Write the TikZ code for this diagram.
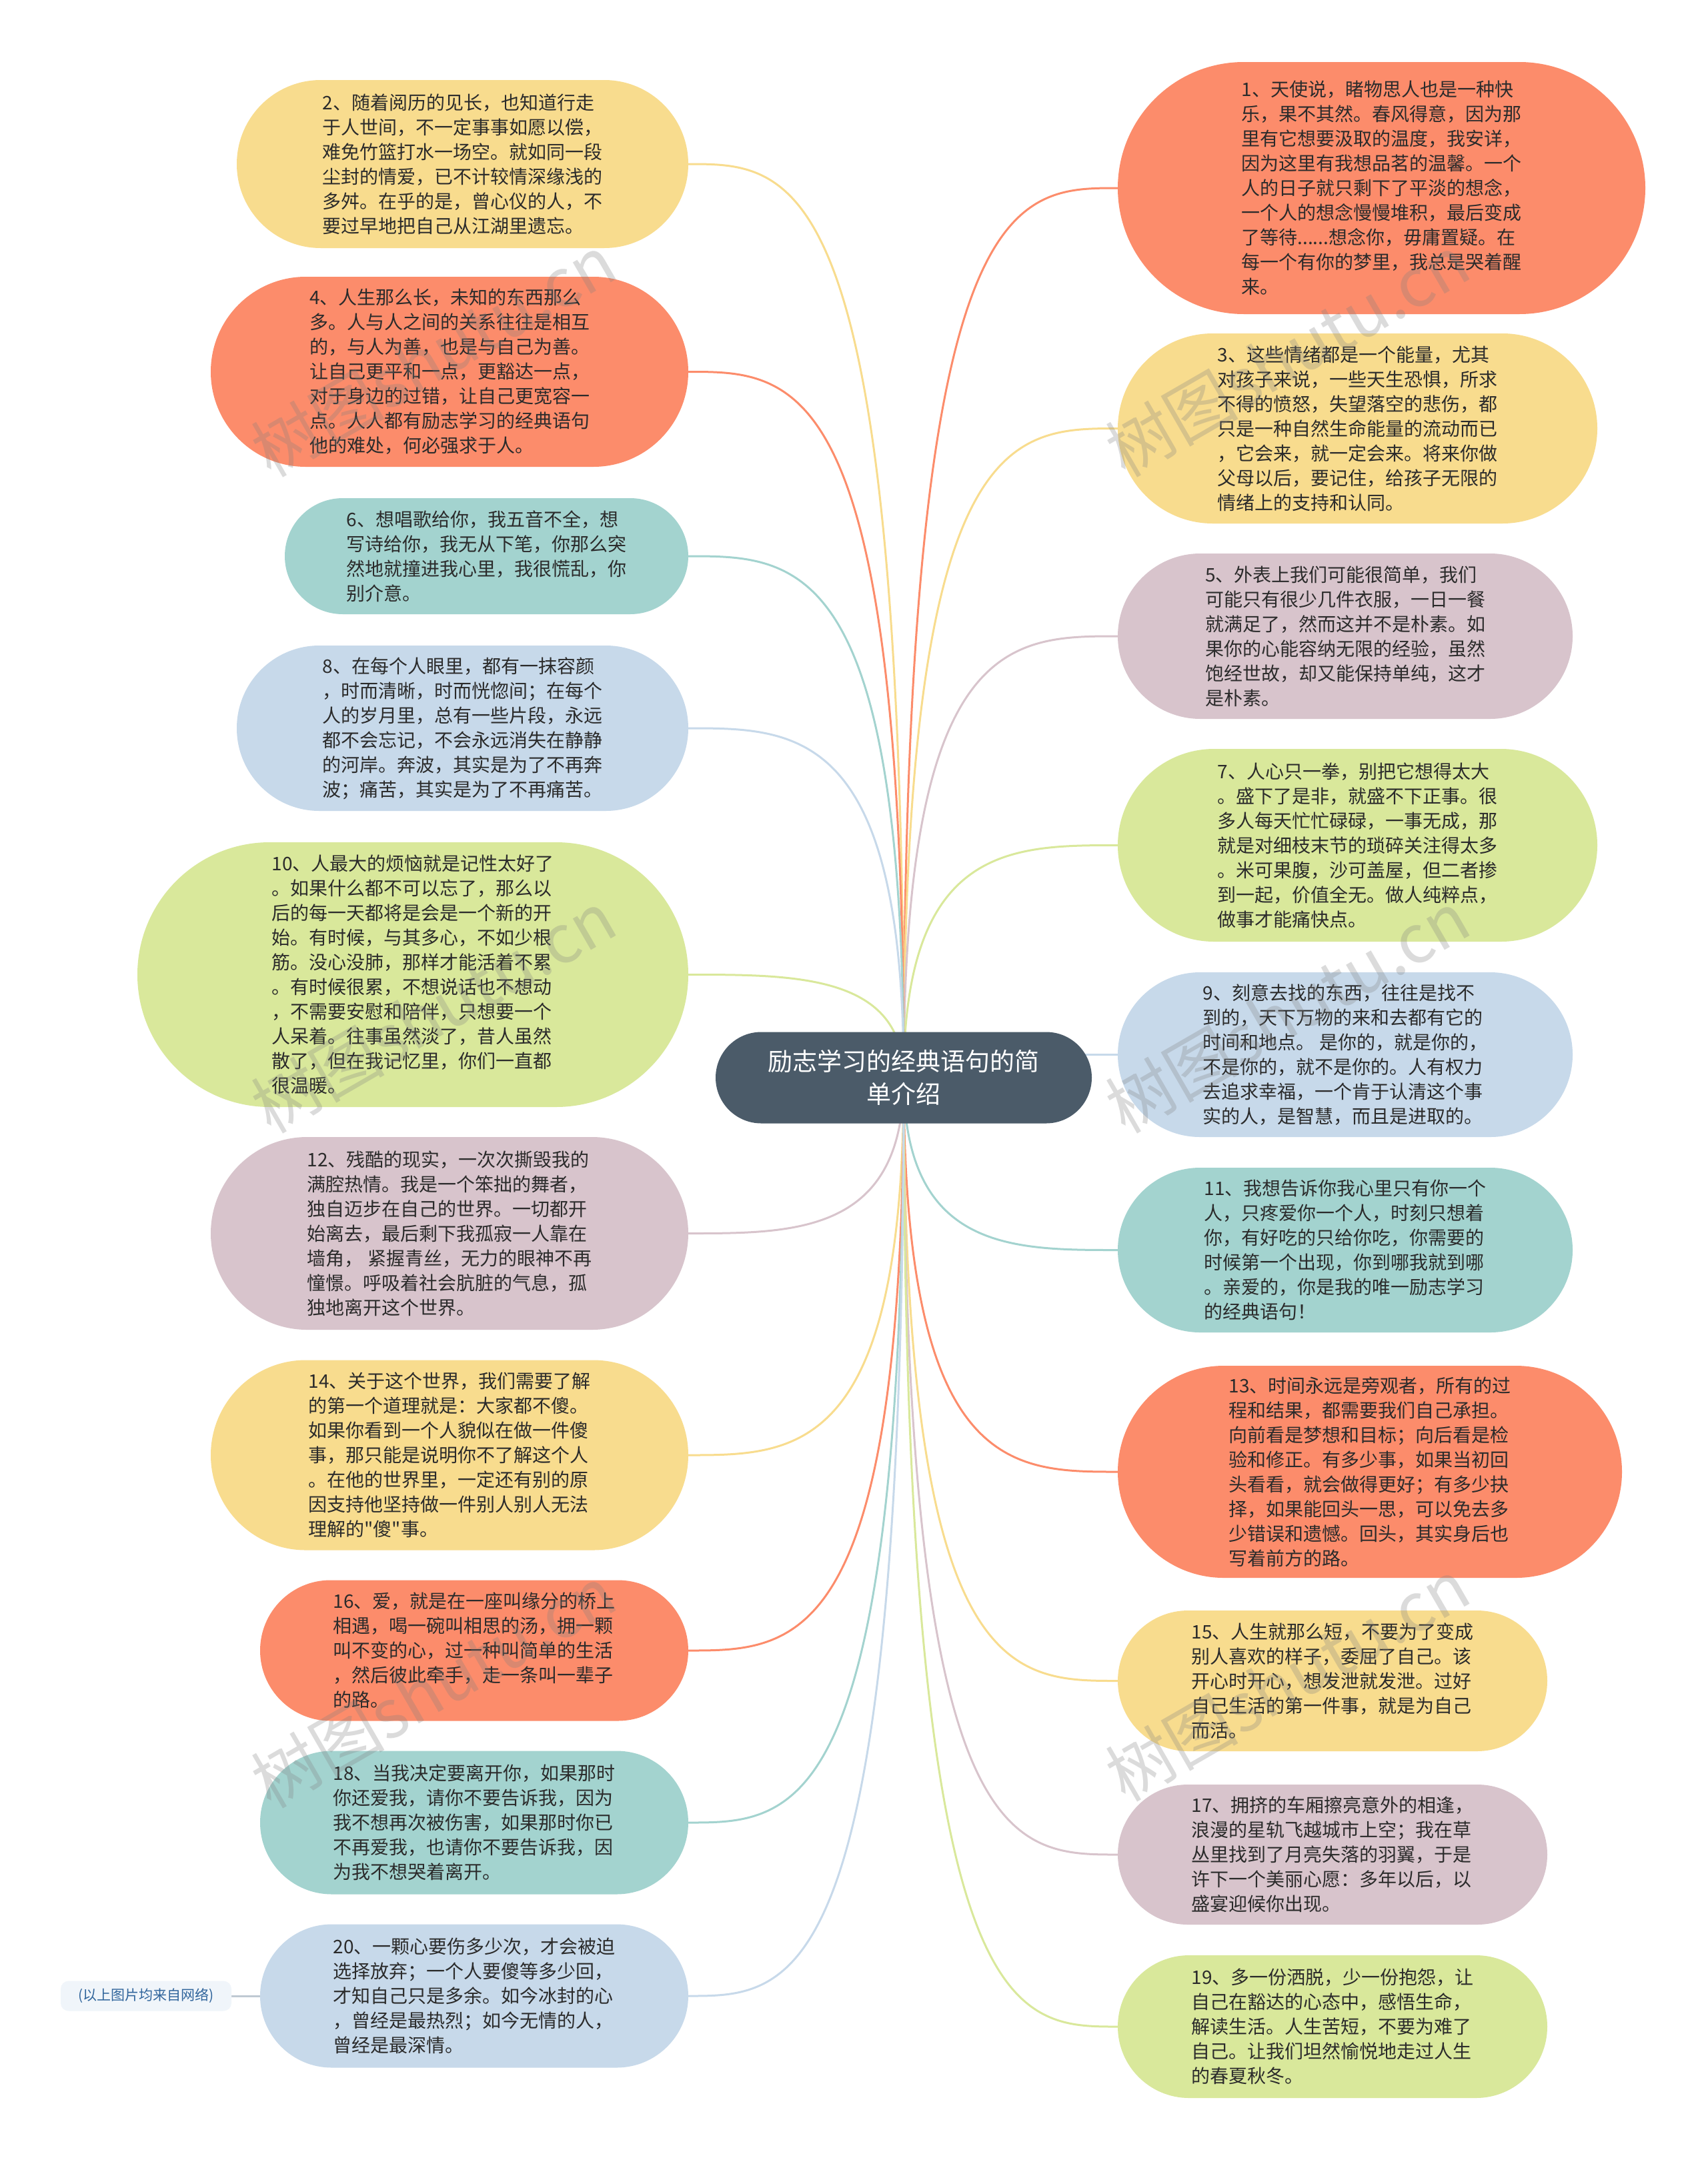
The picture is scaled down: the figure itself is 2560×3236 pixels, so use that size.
\documentclass[tikz,border=0pt]{standalone}
\usepackage{fontspec}
\newfontfamily\cjk{Noto Sans CJK SC}
\usetikzlibrary{calc,backgrounds}
\definecolor{cOr}{HTML}{FC8C6B}
\definecolor{cYe}{HTML}{F8DC8E}
\definecolor{cTe}{HTML}{A3D3CF}
\definecolor{cBl}{HTML}{C7D9EA}
\definecolor{cGr}{HTML}{D9E89B}
\definecolor{cMa}{HTML}{D8C4CC}
\definecolor{cCe}{HTML}{4B5B69}
\definecolor{cTx}{HTML}{2B2B2B}
\definecolor{cLb}{HTML}{F0F5FA}
\definecolor{cLt}{HTML}{30659C}
\definecolor{cLl}{HTML}{BFC9D3}
\newcommand\lconn[2]{\draw[conn,draw=#2] (c.center) .. controls (c.center |- #1.east) and ($(c.center |- #1.east)!0.5!(#1.east)$) .. (#1.east);}
\newcommand\rconn[2]{\draw[conn,draw=#2] (c.center) .. controls (c.center |- #1.west) and ($(c.center |- #1.west)!0.5!(#1.west)$) .. (#1.west);}
\begin{document}
\begin{tikzpicture}[x=1pt,y=-1pt,
  bub/.style={rectangle, inner sep=0pt, align=left, text=cTx, font=\cjk\fontsize{28}{37}\selectfont},
  conn/.style={line width=3pt},
  wm/.style={rotate=30, text=gray, text opacity=0.28, font=\cjk\fontsize{100}{100}\selectfont}]
\useasboundingbox (0,0) rectangle (2560,3236);

\node[rectangle, fill=cCe, minimum width=564pt, minimum height=137pt, rounded corners=68.5pt, inner sep=0pt, align=center, text=white, font=\cjk\fontsize{37}{49.5}\selectfont] (c) at (1355,1616) {励志学习的经典语句的简\\单介绍};

% right column
\node[bub, fill=cOr, minimum width=791pt, minimum height=378pt, rounded corners=189pt] (n1) at (2071.5,282) {1、天使说，睹物思人也是一种快\\乐，果不其然。春风得意，因为那\\里有它想要汲取的温度，我安详，\\因为这里有我想品茗的温馨。一个\\人的日子就只剩下了平淡的想念，\\一个人的想念慢慢堆积，最后变成\\了等待......想念你，毋庸置疑。在\\每一个有你的梦里，我总是哭着醒\\来。};
\node[bub, fill=cYe, minimum width=719pt, minimum height=285pt, rounded corners=142.5pt] (n3) at (2035.5,642.5) {3、这些情绪都是一个能量，尤其\\对孩子来说，一些天生恐惧，所求\\不得的愤怒，失望落空的悲伤，都\\只是一种自然生命能量的流动而已\\，它会来，就一定会来。将来你做\\父母以后，要记住，给孩子无限的\\情绪上的支持和认同。};
\node[bub, fill=cMa, minimum width=682pt, minimum height=248pt, rounded corners=124pt] (n5) at (2017,954) {5、外表上我们可能很简单，我们\\可能只有很少几件衣服，一日一餐\\就满足了，然而这并不是朴素。如\\果你的心能容纳无限的经验，虽然\\饱经世故，却又能保持单纯，这才\\是朴素。};
\node[bub, fill=cGr, minimum width=719pt, minimum height=289pt, rounded corners=144.5pt] (n7) at (2035.5,1267.5) {7、人心只一拳，别把它想得太大\\。盛下了是非，就盛不下正事。很\\多人每天忙忙碌碌，一事无成，那\\就是对细枝末节的琐碎关注得太多\\。米可果腹，沙可盖屋，但二者掺\\到一起，价值全无。做人纯粹点，\\做事才能痛快点。};
\node[bub, fill=cBl, minimum width=682pt, minimum height=247pt, rounded corners=123.5pt] (n9) at (2017,1581.5) {9、刻意去找的东西，往往是找不\\到的，天下万物的来和去都有它的\\时间和地点。 是你的，就是你的，\\不是你的，就不是你的。人有权力\\去追求幸福，一个肯于认清这个事\\实的人，是智慧，而且是进取的。};
\node[bub, fill=cTe, minimum width=682pt, minimum height=247pt, rounded corners=123.5pt] (n11) at (2017,1874.5) {11、我想告诉你我心里只有你一个\\人，只疼爱你一个人，时刻只想着\\你，有好吃的只给你吃，你需要的\\时候第一个出现，你到哪我就到哪\\。亲爱的，你是我的唯一励志学习\\的经典语句！};
\node[bub, fill=cOr, minimum width=756pt, minimum height=318pt, rounded corners=159pt] (n13) at (2054,2207) {13、时间永远是旁观者，所有的过\\程和结果，都需要我们自己承担。\\向前看是梦想和目标；向后看是检\\验和修正。有多少事，如果当初回\\头看看，就会做得更好；有多少抉\\择，如果能回头一思，可以免去多\\少错误和遗憾。回头，其实身后也\\写着前方的路。};
\node[bub, fill=cYe, minimum width=644pt, minimum height=211pt, rounded corners=105.5pt] (n15) at (1998,2520.5) {15、人生就那么短，不要为了变成\\别人喜欢的样子，委屈了自己。该\\开心时开心，想发泄就发泄。过好\\自己生活的第一件事，就是为自己\\而活。};
\node[bub, fill=cMa, minimum width=644pt, minimum height=210pt, rounded corners=105pt] (n17) at (1998,2781) {17、拥挤的车厢擦亮意外的相逢，\\浪漫的星轨飞越城市上空；我在草\\丛里找到了月亮失落的羽翼，于是\\许下一个美丽心愿：多年以后，以\\盛宴迎候你出现。};
\node[bub, fill=cGr, minimum width=644pt, minimum height=214pt, rounded corners=107pt] (n19) at (1998,3039) {19、多一份洒脱，少一份抱怨，让\\自己在豁达的心态中，感悟生命，\\解读生活。人生苦短，不要为难了\\自己。让我们坦然愉悦地走过人生\\的春夏秋冬。};

% left column
\node[bub, fill=cYe, minimum width=677pt, minimum height=252pt, rounded corners=126pt] (n2) at (693.5,246) {2、随着阅历的见长，也知道行走\\于人世间，不一定事事如愿以偿，\\难免竹篮打水一场空。就如同一段\\尘封的情爱，已不计较情深缘浅的\\多舛。在乎的是，曾心仪的人，不\\要过早地把自己从江湖里遗忘。};
\node[bub, fill=cOr, minimum width=716pt, minimum height=285pt, rounded corners=142.5pt] (n4) at (674,557.5) {4、人生那么长，未知的东西那么\\多。人与人之间的关系往往是相互\\的，与人为善，也是与自己为善。\\让自己更平和一点，更豁达一点，\\对于身边的过错，让自己更宽容一\\点。人人都有励志学习的经典语句\\他的难处，何必强求于人。};
\node[bub, fill=cTe, minimum width=605pt, minimum height=174pt, rounded corners=87pt] (n6) at (729.5,834) {6、想唱歌给你，我五音不全，想\\写诗给你，我无从下笔，你那么突\\然地就撞进我心里，我很慌乱，你\\别介意。};
\node[bub, fill=cBl, minimum width=677pt, minimum height=248pt, rounded corners=124pt] (n8) at (693.5,1092) {8、在每个人眼里，都有一抹容颜\\，时而清晰，时而恍惚间；在每个\\人的岁月里，总有一些片段，永远\\都不会忘记，不会永远消失在静静\\的河岸。奔波，其实是为了不再奔\\波；痛苦，其实是为了不再痛苦。};
\node[bub, fill=cGr, minimum width=826pt, minimum height=397pt, rounded corners=198.5pt] (n10) at (619,1461.5) {10、人最大的烦恼就是记性太好了\\。如果什么都不可以忘了，那么以\\后的每一天都将是会是一个新的开\\始。有时候，与其多心，不如少根\\筋。没心没肺，那样才能活着不累\\。有时候很累，不想说话也不想动\\，不需要安慰和陪伴，只想要一个\\人呆着。往事虽然淡了，昔人虽然\\散了，但在我记忆里，你们一直都\\很温暖。};
\node[bub, fill=cMa, minimum width=716pt, minimum height=289pt, rounded corners=144.5pt] (n12) at (674,1849.5) {12、残酷的现实，一次次撕毁我的\\满腔热情。我是一个笨拙的舞者，\\独自迈步在自己的世界。一切都开\\始离去，最后剩下我孤寂一人靠在\\墙角， 紧握青丝，无力的眼神不再\\憧憬。呼吸着社会肮脏的气息，孤\\独地离开这个世界。};
\node[bub, fill=cYe, minimum width=716pt, minimum height=285pt, rounded corners=142.5pt] (n14) at (674,2182) {14、关于这个世界，我们需要了解\\的第一个道理就是：大家都不傻。\\如果你看到一个人貌似在做一件傻\\事，那只能是说明你不了解这个人\\。在他的世界里，一定还有别的原\\因支持他坚持做一件别人别人无法\\理解的"傻"事。};
\node[bub, fill=cOr, minimum width=642pt, minimum height=211pt, rounded corners=105.5pt] (n16) at (711,2475) {16、爱，就是在一座叫缘分的桥上\\相遇，喝一碗叫相思的汤，拥一颗\\叫不变的心，过一种叫简单的生活\\，然后彼此牵手，走一条叫一辈子\\的路。};
\node[bub, fill=cTe, minimum width=642pt, minimum height=215pt, rounded corners=107.5pt] (n18) at (711,2733) {18、当我决定要离开你，如果那时\\你还爱我，请你不要告诉我，因为\\我不想再次被伤害，如果那时你已\\不再爱我，也请你不要告诉我，因\\为我不想哭着离开。};
\node[bub, fill=cBl, minimum width=642pt, minimum height=215pt, rounded corners=107.5pt] (n20) at (711,2993) {20、一颗心要伤多少次，才会被迫\\选择放弃；一个人要傻等多少回，\\才知自己只是多余。如今冰封的心\\，曾经是最热烈；如今无情的人，\\曾经是最深情。};

\node[rectangle, fill=cLb, minimum width=256pt, minimum height=45pt, rounded corners=12pt, inner sep=0pt, text=cLt, font=\cjk\fontsize{21}{24}\selectfont] (lb) at (219,2993) {(以上图片均来自网络)};

\begin{pgfonlayer}{background}
\fill[white] (0,0) rectangle (2560,3236);
\rconn{n1}{cOr}
\rconn{n3}{cYe}
\rconn{n5}{cMa}
\rconn{n7}{cGr}
\rconn{n9}{cBl}
\rconn{n11}{cTe}
\rconn{n13}{cOr}
\rconn{n15}{cYe}
\rconn{n17}{cMa}
\rconn{n19}{cGr}
\lconn{n2}{cYe}
\lconn{n4}{cOr}
\lconn{n6}{cTe}
\lconn{n8}{cBl}
\lconn{n10}{cGr}
\lconn{n12}{cMa}
\lconn{n14}{cYe}
\lconn{n16}{cOr}
\lconn{n18}{cTe}
\lconn{n20}{cBl}
\draw[conn, draw=cLl] (lb.east) -- (n20.west);
\end{pgfonlayer}

% watermarks
\node[wm] (wm1) at (650,533) {树图shutu.cn};
\node[wm] (wm2) at (1930,533) {树图shutu.cn};
\node[wm] (wm3) at (650,1517) {树图shutu.cn};
\node[wm] (wm4) at (1930,1517) {树图shutu.cn};
\node[wm] (wm5) at (650,2529) {树图shutu.cn};
\node[wm] (wm6) at (1930,2519) {树图shutu.cn};
\end{tikzpicture}
\end{document}
